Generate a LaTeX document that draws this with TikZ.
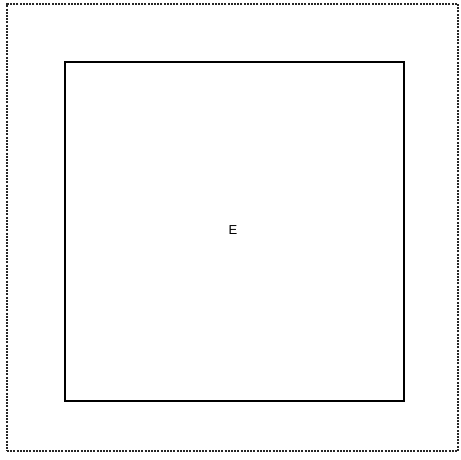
\documentclass[tikz,border=0pt]{standalone}
\usepackage{fontspec}
\setmainfont{Liberation Sans}
\begin{document}
\begin{tikzpicture}[x=1pt,y=-1pt,
  outerbox/.style={draw=black!85,line width=2pt,dash pattern=on 2pt off 1.2pt},
  innerbox/.style={draw=black,line width=2pt},
  lbl/.style={font=\fontsize{13}{15}\selectfont}]
\useasboundingbox (0,0) rectangle (461,459);
\node[outerbox,minimum width=451pt,minimum height=447pt,inner sep=0pt] (frame) at (232.5,227.5) {};
\node[innerbox,minimum width=339pt,minimum height=339pt,inner sep=0pt] (e) at (234.5,231) {};
\node[lbl] (elabel) at (233,230) {E};
\end{tikzpicture}
\end{document}
